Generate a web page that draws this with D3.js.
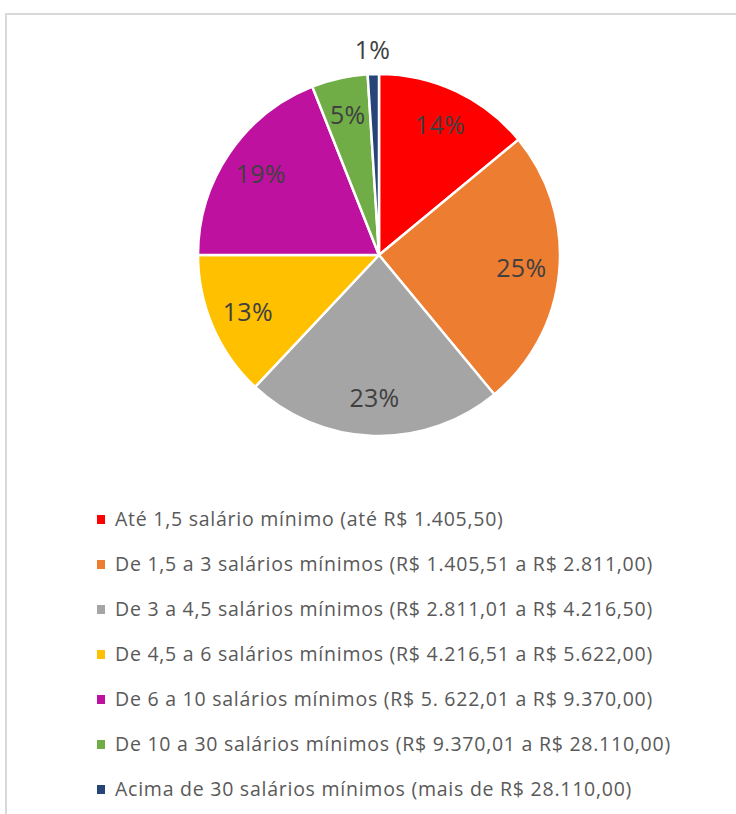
<!DOCTYPE html>
<html>
<head>
<meta charset="utf-8">
<script src="https://cdn.jsdelivr.net/npm/d3@7"></script>
<style>
  body { margin: 0; background: #fff; }
  svg { display: block; }
</style>
</head>
<body>
<div id="chart"></div>
<script>
const width = 736
const height = 814

// faixas de renda
const categories = [
  "Até 1,5 salário mínimo (até R$ 1.405,50)",
  "De 1,5 a 3 salários mínimos (R$ 1.405,51 a R$ 2.811,00)",
  "De 3 a 4,5 salários mínimos (R$ 2.811,01 a R$ 4.216,50)",
  "De 4,5 a 6 salários mínimos (R$ 4.216,51 a R$ 5.622,00)",
  "De 6 a 10 salários mínimos (R$ 5. 622,01 a R$ 9.370,00)",
  "De 10 a 30 salários mínimos (R$ 9.370,01 a R$ 28.110,00)",
  "Acima de 30 salários mínimos (mais de R$ 28.110,00)"
]
const values = [14, 25, 23, 13, 19, 5, 1]
const labels = ["14%", "25%", "23%", "13%", "19%", "5%", "1%"]
const colors = ["#ff0000", "#ed7d31", "#a5a5a5", "#ffc000", "#bf119f", "#70ad47", "#264478"]

const cx = 379, cy = 255, radius = 181
const font = "'Open Sans', Lato, sans-serif"

const svg = d3.select("#chart")
  .append("svg")
  .attr("width", width)
  .attr("height", height)

// moldura do gráfico (cortada à direita e embaixo)
svg.append("path")
  .attr("d", "M6,814 V14 H736")
  .attr("fill", "none")
  .attr("stroke", "#d9d9d9")
  .attr("stroke-width", 2)

const color = d3.scaleOrdinal(categories, colors)

const pie = d3.pie()
  .value(d => d.value)
  .sort(null)

const data = categories.map((c, i) => ({ name: c, value: values[i], label: labels[i] }))
const arcs = pie(data)

const arc = d3.arc().innerRadius(0).outerRadius(radius)
const labelArc = d3.arc().innerRadius(radius * 0.79).outerRadius(radius * 0.79)
const outerArc = d3.arc().innerRadius(radius + 24).outerRadius(radius + 24)

const g = svg.append("g").attr("transform", `translate(${cx},${cy})`)

g.selectAll("path")
  .data(arcs)
  .enter()
  .append("path")
  .attr("d", arc)
  .attr("fill", d => color(d.data.name))
  .attr("stroke", "#fff")
  .attr("stroke-width", 2.5)
  .attr("stroke-linejoin", "round")

g.selectAll("text")
  .data(arcs)
  .enter()
  .append("text")
  .attr("transform", d => `translate(${(d.data.value < 3 ? outerArc : labelArc).centroid(d)})`)
  .attr("text-anchor", "middle")
  .attr("dy", "0.35em")
  .attr("font-family", font)
  .attr("font-size", 25)
  .attr("letter-spacing", 0.3)
  .attr("fill", "#404040")
  .text(d => d.data.label)

// legenda
const y = d3.scalePoint()
  .domain(categories)
  .range([519, 789])

const legend = svg.append("g").attr("id", "legend")

const item = legend.selectAll("g")
  .data(categories)
  .enter()
  .append("g")
  .attr("transform", d => `translate(97,${y(d)})`)

item.append("rect")
  .attr("x", 0)
  .attr("y", -4)
  .attr("width", 8)
  .attr("height", 9)
  .attr("fill", d => color(d))

item.append("text")
  .attr("x", 18)
  .attr("dy", "0.36em")
  .attr("font-family", font)
  .attr("font-size", 19.5)
  .attr("letter-spacing", 0.75)
  .attr("fill", "#595959")
  .text(d => d)
</script>
</body>
</html>
